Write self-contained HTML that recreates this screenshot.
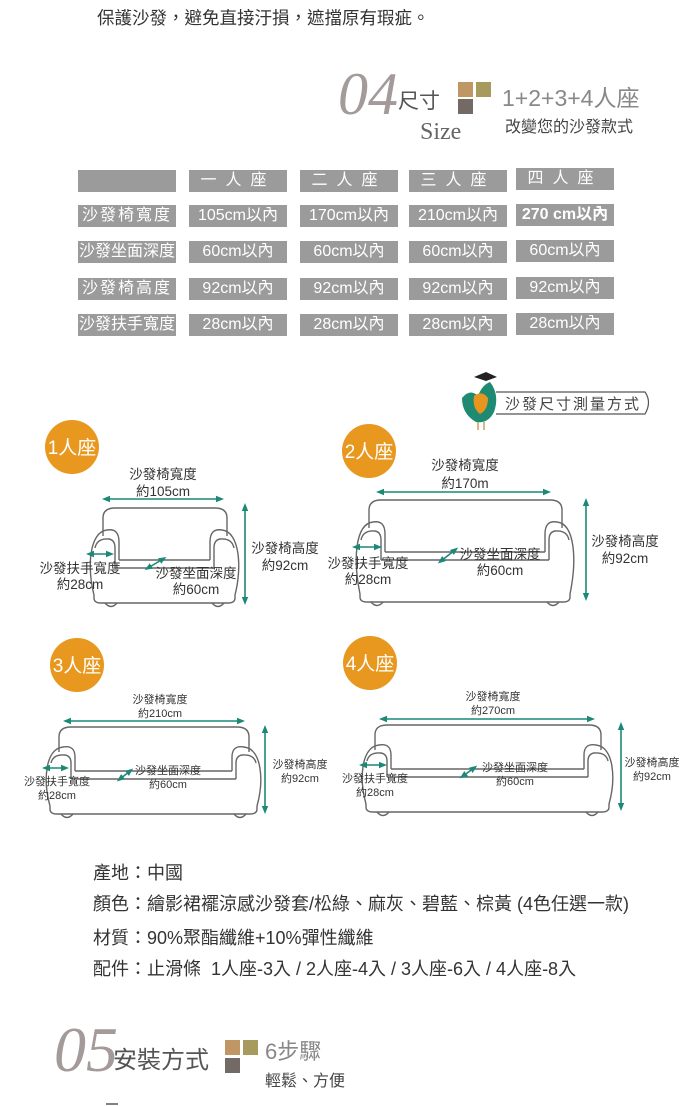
<!DOCTYPE html>
<html><head><meta charset="utf-8"><style>
body{margin:0;background:#fff;}
#p{position:relative;width:700px;height:1106px;overflow:hidden;font-family:"Liberation Sans","Noto Sans CJK TC",sans-serif;}
.c{position:absolute;background:#9b9b9b;color:#fff;font-size:16px;text-align:center;height:22px;line-height:22px;white-space:nowrap;}
.t{position:absolute;left:93px;font-size:18px;color:#333;white-space:nowrap;}
svg text{font-family:"Liberation Sans","Noto Sans CJK TC",sans-serif;}
svg text.sf{font-family:"Liberation Serif",serif;}
</style></head><body><div id="p">
<div style="position:absolute;left:97px;top:5px;font-size:17.5px;color:#333;white-space:nowrap;">保護沙發，避免直接汙損，遮擋原有瑕疵。</div>

<div class="c" style="left:78px;top:170px;width:98px"></div>
<div class="c" style="left:189px;top:170px;width:98px;letter-spacing:9px">一人座</div>
<div class="c" style="left:300px;top:170px;width:98px;letter-spacing:9px">二人座</div>
<div class="c" style="left:409px;top:170px;width:98px;letter-spacing:9px">三人座</div>
<div class="c" style="left:516px;top:168px;width:98px;letter-spacing:9px">四人座</div>

<div class="c" style="left:78px;top:205px;width:98px;letter-spacing:2px">沙發椅寬度</div>
<div class="c" style="left:189px;top:205px;width:98px">105cm以內</div>
<div class="c" style="left:300px;top:205px;width:98px">170cm以內</div>
<div class="c" style="left:409px;top:205px;width:98px">210cm以內</div>
<div class="c" style="left:516px;top:204px;width:98px;font-weight:bold">270 cm以內</div>

<div class="c" style="left:78px;top:241px;width:98px">沙發坐面深度</div>
<div class="c" style="left:189px;top:241px;width:98px">60cm以內</div>
<div class="c" style="left:300px;top:241px;width:98px">60cm以內</div>
<div class="c" style="left:409px;top:241px;width:98px">60cm以內</div>
<div class="c" style="left:516px;top:240px;width:98px">60cm以內</div>

<div class="c" style="left:78px;top:278px;width:98px;letter-spacing:2px">沙發椅高度</div>
<div class="c" style="left:189px;top:278px;width:98px">92cm以內</div>
<div class="c" style="left:300px;top:278px;width:98px">92cm以內</div>
<div class="c" style="left:409px;top:278px;width:98px">92cm以內</div>
<div class="c" style="left:516px;top:277px;width:98px">92cm以內</div>

<div class="c" style="left:78px;top:314px;width:98px">沙發扶手寬度</div>
<div class="c" style="left:189px;top:314px;width:98px">28cm以內</div>
<div class="c" style="left:300px;top:314px;width:98px">28cm以內</div>
<div class="c" style="left:409px;top:314px;width:98px">28cm以內</div>
<div class="c" style="left:516px;top:313px;width:98px">28cm以內</div>

<div class="t" style="top:859px">產地：中國</div>
<div class="t" style="top:890px">顏色：繪影裙襬涼感沙發套/松綠、麻灰、碧藍、棕黃 (4色任選一款)</div>
<div class="t" style="top:924px">材質：90%聚酯纖維+10%彈性纖維</div>
<div class="t" style="top:955px">配件：止滑條&nbsp; 1人座-3入 / 2人座-4入 / 3人座-6入 / 4人座-8入</div>

<svg width="700" height="1106" style="position:absolute;left:0;top:0">
<defs><marker id="a" viewBox="0 0 10 10" refX="5" refY="5" markerWidth="5" markerHeight="5" orient="auto-start-reverse"><path d="M0,1 L10,5 L0,9 z" fill="#1b8878"/></marker></defs>
<text class="sf" x="338" y="114" font-style="italic" font-size="60" fill="#a39a99">04</text>
<text x="398" y="108" font-size="21" fill="#555">尺寸</text>
<text class="sf" x="420" y="139" font-size="24" fill="#666">Size</text>
<rect x="458" y="82" width="15" height="15" fill="#bf9664"/><rect x="476" y="82" width="15" height="15" fill="#a69a5c"/><rect x="458" y="99" width="15" height="15" fill="#746a65"/>
<text x="502" y="106" font-size="23" fill="#888">1+2+3+4人座</text>
<text x="505" y="132" font-size="16" fill="#444">改變您的沙發款式</text>

<path d="M496 392 H645 Q652 402 645 414 H496" fill="#fff" stroke="#555" stroke-width="1.2"/>
<text x="505" y="409" font-size="15" fill="#444" letter-spacing="2">沙發尺寸測量方式</text>
<path d="M462 398 Q470 388 478 396 Q482 385 490 382 Q500 395 494 412 Q488 424 476 422 Q462 414 462 398z" fill="#1e8a72"/>
<path d="M474 396 Q482 390 488 398 Q488 410 480 414 Q472 408 474 396z" fill="#e6951e"/>
<path d="M474 377 L486 372 L497 377 L486 381z" fill="#222"/>
<path d="M478 422 V430 M484 422 V430" stroke="#c8a060" stroke-width="1.5"/>

<g fill="#e8981f"><circle cx="72" cy="447" r="27"/><circle cx="369" cy="451" r="27"/><circle cx="77" cy="665" r="27"/><circle cx="370" cy="663" r="27"/></g>
<g fill="#fff" font-size="19"><text x="72" y="454" text-anchor="middle">1人座</text><text x="369" y="458" text-anchor="middle">2人座</text><text x="77" y="672" text-anchor="middle">3人座</text><text x="370" y="670" text-anchor="middle">4人座</text></g>

<g fill="none" stroke="#666" stroke-width="1.4">
<path d="M103 536 V518 Q103 508 115 508 H215 Q227 508 227 518 V536"/>
<path d="M94 595 C87 568 89 532 107 530 Q119 528 119 542 V560"/>
<path d="M95 548 Q97 538 109 539 Q115 540 115 548 V568"/>
<path d="M119 560 H210 M115 568 H214"/>
<path d="M235 595 C242 568 240 532 222 530 Q210 528 210 542 V560"/>
<path d="M234 548 Q232 538 220 539 Q214 540 214 548 V568"/>
<path d="M94 595 V598 Q94 603 101 603 H228 Q235 603 235 598 V595"/>
<path d="M105 603 Q111 610 117 603 M212 603 Q218 610 224 603"/>

<path d="M369 528 V510 Q369 500 381 500 H550 Q562 500 562 510 V528"/>
<path d="M360 594 C353 560 355 524 373 522 Q385 520 385 534 V552"/>
<path d="M361 540 Q363 530 375 531 Q381 532 381 540 V560"/>
<path d="M385 552 H545 M381 560 H549"/>
<path d="M570 594 C577 560 575 524 557 522 Q545 520 545 534 V552"/>
<path d="M569 540 Q567 530 555 531 Q549 532 549 540 V560"/>
<path d="M360 594 V597 Q360 602 367 602 H563 Q570 602 570 597 V594"/>
<path d="M371 602 Q377 609 383 602 M547 602 Q553 609 559 602"/>

<path d="M59 752 V737 Q59 727 71 727 H237 Q249 727 249 737 V752"/>
<path d="M50 806 C43 781 45 749 63 747 Q75 745 75 757 V771"/>
<path d="M51 763 Q53 754 65 755 Q71 756 71 763 V779"/>
<path d="M75 771 H232 M71 779 H236"/>
<path d="M257 806 C264 781 262 749 244 747 Q232 745 232 757 V771"/>
<path d="M256 763 Q254 754 242 755 Q236 756 236 763 V779"/>
<path d="M50 806 V809 Q50 814 57 814 H250 Q257 814 257 809 V806"/>
<path d="M61 814 Q67 821 73 814 M234 814 Q240 821 246 814"/>

<path d="M375 750 V735 Q375 725 387 725 H589 Q601 725 601 735 V750"/>
<path d="M366 804 C359 779 361 747 379 745 Q391 743 391 755 V769"/>
<path d="M367 761 Q369 752 381 753 Q387 754 387 761 V777"/>
<path d="M391 769 H584 M387 777 H588"/>
<path d="M609 804 C616 779 614 747 596 745 Q584 743 584 755 V769"/>
<path d="M608 761 Q606 752 594 753 Q588 754 588 761 V777"/>
<path d="M366 804 V807 Q366 812 373 812 H602 Q609 812 609 807 V804"/>
<path d="M377 812 Q383 819 389 812 M586 812 Q592 819 598 812"/>
</g>

<g stroke="#1b8878" stroke-width="1.6" marker-start="url(#a)" marker-end="url(#a)">
<line x1="106" y1="499" x2="220" y2="499"/><line x1="245" y1="507" x2="245" y2="601"/><line x1="90" y1="554" x2="110" y2="554"/><line x1="148" y1="568" x2="163" y2="559"/>
<line x1="380" y1="492" x2="547" y2="492"/><line x1="586" y1="502" x2="586" y2="597"/><line x1="356" y1="547" x2="378" y2="547"/><line x1="441" y1="561" x2="455" y2="550"/>
<line x1="67" y1="721" x2="241" y2="721"/><line x1="265" y1="729" x2="265" y2="810"/><line x1="46" y1="768" x2="65" y2="768"/><line x1="120" y1="779" x2="130" y2="771"/>
<line x1="383" y1="719" x2="591" y2="719"/><line x1="621" y1="726" x2="621" y2="807"/><line x1="363" y1="765" x2="383" y2="765"/><line x1="463" y1="776" x2="474" y2="768"/>
</g>

<g fill="#333" font-size="13.5" text-anchor="middle">
<text x="163" y="479">沙發椅寬度</text><text x="163" y="496">約105cm</text>
<text x="285" y="553">沙發椅高度</text><text x="285" y="570">約92cm</text>
<text x="80" y="573">沙發扶手寬度</text><text x="80" y="589">約28cm</text>
<text x="196" y="578">沙發坐面深度</text><text x="196" y="594">約60cm</text>

<text x="465" y="470">沙發椅寬度</text><text x="465" y="488">約170m</text>
<text x="625" y="546">沙發椅高度</text><text x="625" y="563">約92cm</text>
<text x="368" y="568">沙發扶手寬度</text><text x="368" y="584">約28cm</text>
<text x="500" y="559">沙發坐面深度</text><text x="500" y="575">約60cm</text>
</g>
<g fill="#333" font-size="11" text-anchor="middle">
<text x="160" y="703">沙發椅寬度</text><text x="160" y="717">約210cm</text>
<text x="300" y="768">沙發椅高度</text><text x="300" y="782">約92cm</text>
<text x="57" y="785">沙發扶手寬度</text><text x="57" y="799">約28cm</text>
<text x="168" y="774">沙發坐面深度</text><text x="168" y="788">約60cm</text>

<text x="493" y="700">沙發椅寬度</text><text x="493" y="714">約270cm</text>
<text x="652" y="766">沙發椅高度</text><text x="652" y="780">約92cm</text>
<text x="375" y="782">沙發扶手寬度</text><text x="375" y="796">約28cm</text>
<text x="515" y="771">沙發坐面深度</text><text x="515" y="785">約60cm</text>
</g>

<text class="sf" x="54" y="1071" font-style="italic" font-size="64" fill="#a39a99">05</text>
<text x="113" y="1068" font-size="24" fill="#555">安裝方式</text>
<rect x="225" y="1040" width="15" height="15" fill="#bf9664"/><rect x="243" y="1040" width="15" height="15" fill="#a69a5c"/><rect x="225" y="1058" width="15" height="15" fill="#746a65"/>
<text x="265" y="1059" font-size="22" fill="#888">6步驟</text>
<text x="265" y="1086" font-size="16" fill="#444">輕鬆、方便</text>
<line x1="106" y1="1104" x2="118" y2="1104" stroke="#555" stroke-width="1.5"/>
</svg>
</div></body></html>
